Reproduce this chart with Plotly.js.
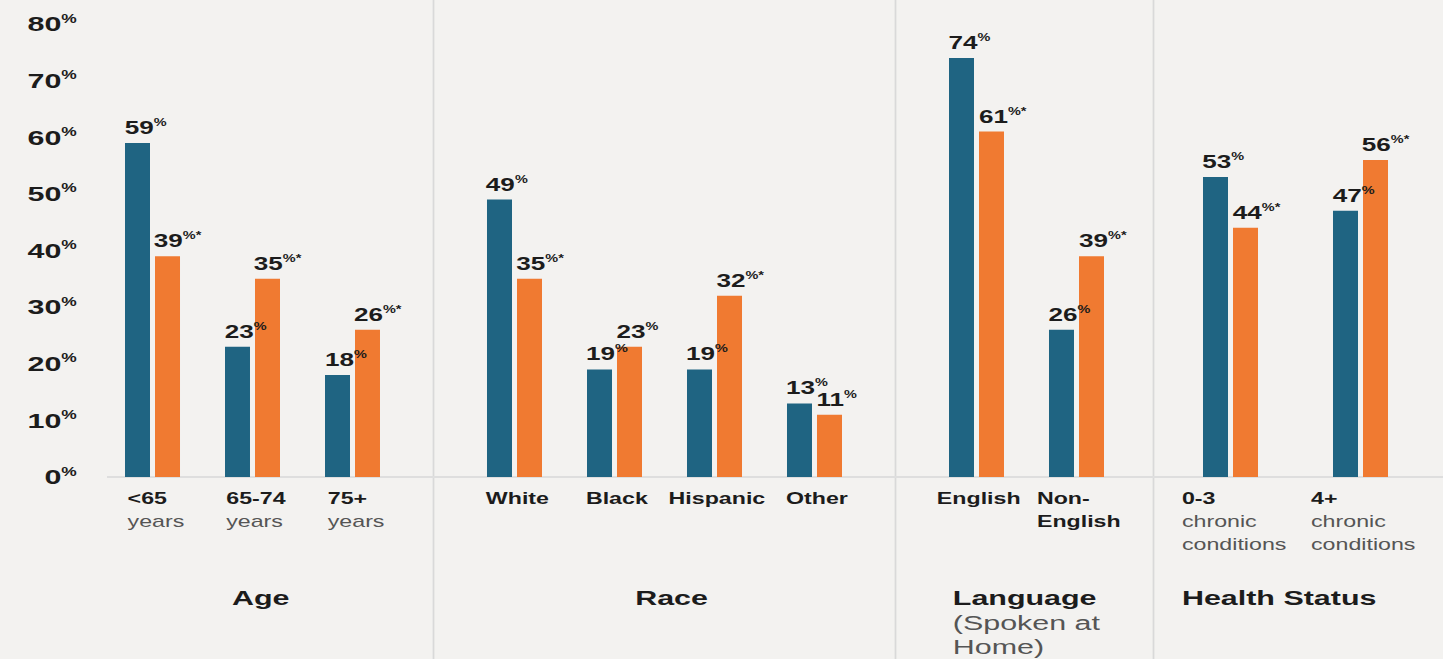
<!DOCTYPE html>
<html>
<head>
<meta charset="utf-8">
<script src="https://cdn.plot.ly/plotly-3.0.1.min.js"></script>
<style>
  html, body { margin:0; padding:0; background:#f3f2f0; overflow:hidden; }
  #wrap { width:1443px; height:659px; overflow:hidden; }
  #chart { width:995px; height:659px; transform-origin:0 0; }
</style>
</head>
<body>
<div id="wrap"><div id="chart"></div></div>
<script>
// ---------- data ----------
const categoryMain = ['&lt;65', '65-74', '75+', 'White', 'Black', 'Hispanic', 'Other', 'English', 'Non-<br>English', '0-3', '4+'];
const categorySub  = ['years', 'years', 'years', '', '', '', '', '', '', 'chronic<br>conditions', 'chronic<br>conditions'];
const categoryGroup = [0, 0, 0, 1, 1, 1, 1, 2, 2, 3, 3];
const groupNames = ['Age', 'Race', 'Language', 'Health Status'];
const groupSubs  = ['', '', '(Spoken at<br>Home)', ''];
const seriesA = [59, 23, 18, 49, 19, 19, 13, 74, 26, 53, 47];
const seriesB = [39, 35, 26, 35, 23, 32, 11, 61, 39, 44, 56];
const seriesBStar = [true, true, true, true, false, true, false, true, true, true, true];
const yTickVals = [0, 10, 20, 30, 40, 50, 60, 70, 80];
const yTickText = yTickVals.map(v => v + '<sup><span style="font-size:12px">%</span></sup>');

// ---------- layout helpers ----------
const W = 995, H = 659, TW = 1443, S = TW / W;
document.getElementById('chart').style.transform = 'scaleX(' + S + ')';
const ml = 74, L = ml * S;
const firstCenter = 152.5;
const groupStep = [100, 100, 100, 130];
const groupGap = [162, 162, 154];
const xs = [];
let cur = firstCenter;
for (let i = 0; i < categoryMain.length; i++) {
  if (i > 0) {
    const g = categoryGroup[i], pg = categoryGroup[i - 1];
    cur += (g === pg) ? groupStep[g] : groupGap[pg];
  }
  xs.push(cur);
}
const barW = 25, half = 2.5;
const teal = '#1f6482', orange = '#f07a31';
const labelFont = 'Liberation Sans, Arial, sans-serif';
const dark = '#1c1c1c', grey = '#555555';

const traces = [
  { type: 'bar', x: xs, y: seriesA, width: barW, offset: -barW - half, marker: { color: teal }, hoverinfo: 'skip' },
  { type: 'bar', x: xs, y: seriesB, width: barW, offset: half, marker: { color: orange }, hoverinfo: 'skip' }
];

const annotations = [];
const valFs = 18, digitW = 0.556 * valFs;
const supVal = s => '<sup><span style="font-size:10px">' + s + '</span></sup>';
xs.forEach((x, i) => {
  annotations.push({ x: x - half - barW / 2, y: seriesA[i], xref: 'x', yref: 'y', xanchor: 'left', yanchor: 'bottom',
    xshift: -digitW, yshift: 4, borderpad: 0, showarrow: false,
    text: '<b>' + seriesA[i] + supVal('%') + '</b>', font: { family: labelFont, size: valFs, color: dark } });
  annotations.push({ x: x + half + barW / 2, y: seriesB[i], xref: 'x', yref: 'y', xanchor: 'left', yanchor: 'bottom',
    xshift: -digitW, yshift: 4, borderpad: 0, showarrow: false,
    text: '<b>' + seriesB[i] + supVal('%' + (seriesBStar[i] ? '*' : '')) + '</b>', font: { family: labelFont, size: valFs, color: dark } });
  let t = '<b><span style="font-size:16px">' + categoryMain[i] + '</span></b>';
  if (categorySub[i]) t += '<br><span style="color:' + grey + ';font-size:16px">' + categorySub[i] + '</span>';
  annotations.push({ x: x + 3, y: 0, xref: 'x', yref: 'paper', xanchor: 'center', yanchor: 'top', align: 'left',
    yshift: -12, borderpad: 0, showarrow: false, text: t, font: { family: labelFont, size: 17.6, color: dark } });
});

// group titles
const groupShift = [6, 5, 0, -11];
const shapes = [];
groupNames.forEach((g, gi) => {
  const idx = categoryGroup.map((v, i) => v === gi ? i : -1).filter(i => i >= 0);
  const c = (xs[idx[0]] + xs[idx[idx.length - 1]]) / 2;
  let t = '<b><span style="font-size:21px">' + g + '</span></b>';
  if (groupSubs[gi]) t += '<br><span style="color:' + grey + ';font-size:21px">' + groupSubs[gi] + '</span>';
  annotations.push({ x: c, y: 0, xref: 'x', yref: 'paper', xanchor: 'center', yanchor: 'top', align: 'left',
    xshift: groupShift[gi], yshift: -108, borderpad: 0, showarrow: false, text: t,
    font: { family: labelFont, size: 19, color: dark } });
  if (gi < groupNames.length - 1) {
    const last = idx[idx.length - 1];
    const sx = (xs[last] + xs[last + 1]) / 2;
    shapes.push({ type: 'line', xref: 'x', yref: 'paper', x0: sx, x1: sx, y0: -0.5, y1: 1.2, layer: 'below',
      line: { color: '#d9d9d9', width: 1.2 } });
  }
});

const layout = {
  width: W, height: H,
  margin: { l: ml, r: 0, t: 24, b: 182 },
  paper_bgcolor: '#f3f2f0', plot_bgcolor: '#f3f2f0',
  showlegend: false,
  barmode: 'overlay',
  xaxis: { range: [L, TW], showgrid: false, zeroline: false, showticklabels: false, fixedrange: true },
  yaxis: { range: [0, 80], tickvals: yTickVals, ticktext: yTickText, showgrid: false,
    zeroline: true, zerolinecolor: '#dedede', zerolinewidth: 1.2, ticklabelstandoff: 20,
    tickfont: { family: labelFont, size: 21, color: dark, weight: 'bold' }, fixedrange: true },
  annotations: annotations,
  shapes: shapes
};

Plotly.newPlot('chart', traces, layout, { displayModeBar: false, staticPlot: true });
</script>
</body>
</html>
